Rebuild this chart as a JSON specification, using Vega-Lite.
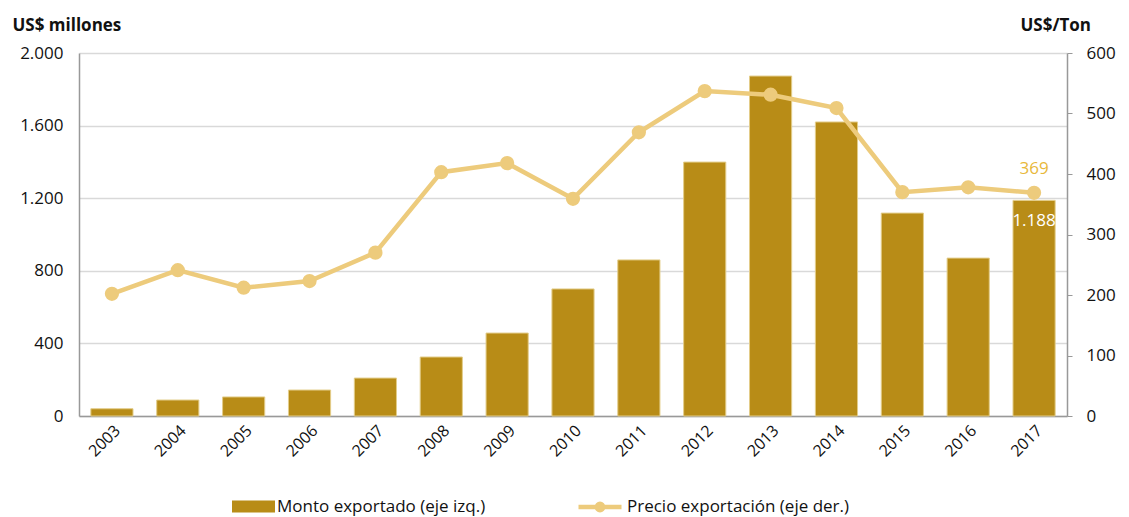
{
  "$schema": "https://vega.github.io/schema/vega-lite/v6.json",
  "width": 988,
  "height": 363,
  "autosize": {"type": "none"},
  "padding": {"left": 79, "top": 53, "right": 62, "bottom": 101},
  "background": "white",
  "data": {
    "values": [
      {"anio": "2003", "monto": 40, "precio": 202},
      {"anio": "2004", "monto": 88, "precio": 241},
      {"anio": "2005", "monto": 105, "precio": 212},
      {"anio": "2006", "monto": 143, "precio": 223},
      {"anio": "2007", "monto": 209, "precio": 270},
      {"anio": "2008", "monto": 325, "precio": 403},
      {"anio": "2009", "monto": 457, "precio": 418},
      {"anio": "2010", "monto": 700, "precio": 359},
      {"anio": "2011", "monto": 860, "precio": 469},
      {"anio": "2012", "monto": 1399, "precio": 537},
      {"anio": "2013", "monto": 1873, "precio": 531},
      {"anio": "2014", "monto": 1620, "precio": 509},
      {"anio": "2015", "monto": 1118, "precio": 370},
      {"anio": "2016", "monto": 870, "precio": 378},
      {"anio": "2017", "monto": 1188, "precio": 369}
    ]
  },
  "encoding": {
    "x": {
      "field": "anio",
      "type": "ordinal",
      "scale": {"paddingInner": 0.36, "paddingOuter": 0.18},
      "axis": {
        "title": null,
        "labelAngle": -45,
        "labelFontSize": 16,
        "labelColor": "#111111",
        "labelPadding": 6,
        "ticks": false,
        "domainColor": "#999999",
        "domainWidth": 1.5,
        "grid": false
      }
    }
  },
  "layer": [
    {
      "encoding": {
        "y": {
          "field": "monto",
          "type": "quantitative",
          "scale": {"domain": [0, 2000], "nice": false},
          "axis": {
            "orient": "left",
            "values": [0, 400, 800, 1200, 1600, 2000],
            "format": ",.0f",
            "title": "US$ millones",
            "titleAngle": 0,
            "titleAlign": "left",
            "titleBaseline": "middle",
            "titleX": -67,
            "titleY": -28,
            "titleFontSize": 17,
            "titleFontWeight": "bold",
            "titleColor": "#111111",
            "labelFontSize": 17,
            "labelColor": "#111111",
            "labelPadding": 16,
            "ticks": false,
            "domainColor": "#999999",
            "domainWidth": 1.5,
            "grid": true,
            "gridColor": "#D9D9D9",
            "gridWidth": 1.5
          }
        }
      },
      "layer": [
        {
          "mark": {"type": "bar", "stroke": "#E3CD8A", "strokeWidth": 1},
          "encoding": {
            "fill": {
              "datum": "Monto exportado (eje izq.)",
              "type": "nominal",
              "scale": {"range": ["#B88C17"]},
              "legend": {
                "title": null,
                "orient": "none",
                "legendX": 153,
                "legendY": 432,
                "labelFontSize": 17,
                "labelColor": "#111111",
                "labelLimit": 400,
                "labelOffset": 2,
                "symbolSize": 1849,
                "symbolType": "M-1,-0.28H1V0.28H-1Z",
                "symbolStrokeWidth": 0,
                "symbolOpacity": 1
              }
            }
          }
        },
        {
          "transform": [{"filter": "datum.anio === '2017'"}],
          "mark": {"type": "text", "color": "white", "fontSize": 17, "baseline": "middle", "dy": 21},
          "encoding": {
            "text": {"field": "monto", "type": "quantitative", "format": ",.0f"}
          }
        }
      ]
    },
    {
      "encoding": {
        "y": {
          "field": "precio",
          "type": "quantitative",
          "scale": {"domain": [0, 600], "nice": false},
          "axis": {
            "orient": "right",
            "values": [0, 100, 200, 300, 400, 500, 600],
            "title": "US$/Ton",
            "titleAngle": 0,
            "titleAlign": "left",
            "titleBaseline": "middle",
            "titleX": -47,
            "titleY": -28,
            "titleFontSize": 17,
            "titleFontWeight": "bold",
            "titleColor": "#111111",
            "labelFontSize": 17,
            "labelColor": "#111111",
            "labelPadding": 14,
            "ticks": true,
            "tickSize": 5,
            "tickColor": "#999999",
            "domainColor": "#999999",
            "domainWidth": 1.5,
            "grid": false
          }
        }
      },
      "layer": [
        {
          "mark": {"type": "line", "strokeWidth": 4.5, "point": {"filled": true, "size": 150, "color": "#EDCB7C"}},
          "encoding": {
            "stroke": {
              "datum": "Precio exportación (eje der.)",
              "type": "nominal",
              "scale": {"range": ["#EDCB7C"]},
              "legend": {
                "title": null,
                "orient": "none",
                "legendX": 497,
                "legendY": 430,
                "labelFontSize": 17,
                "labelColor": "#111111",
                "labelLimit": 400,
                "labelOffset": 3,
                "symbolSize": 1849,
                "symbolType": "M-1,0H1M0.15,0A0.15,0.15 0 1,1 -0.15,0A0.15,0.15 0 1,1 0.15,0Z",
                "symbolStrokeWidth": 4.5,
                "symbolFillColor": "#EDCB7C",
                "symbolOpacity": 1
              }
            }
          }
        },
        {
          "transform": [{"filter": "datum.anio === '2017'"}],
          "mark": {"type": "text", "color": "#E8B83A", "fontSize": 17, "baseline": "middle", "dy": -24},
          "encoding": {
            "text": {"field": "precio", "type": "quantitative", "format": ",.0f"}
          }
        }
      ]
    }
  ],
  "resolve": {"scale": {"y": "independent"}, "axis": {"y": "independent"}},
  "config": {
    "font": "Open Sans",
    "view": {"stroke": null},
    "locale": {"number": {"decimal": ",", "thousands": ".", "grouping": [3], "currency": ["$", ""]}}
  }
}
